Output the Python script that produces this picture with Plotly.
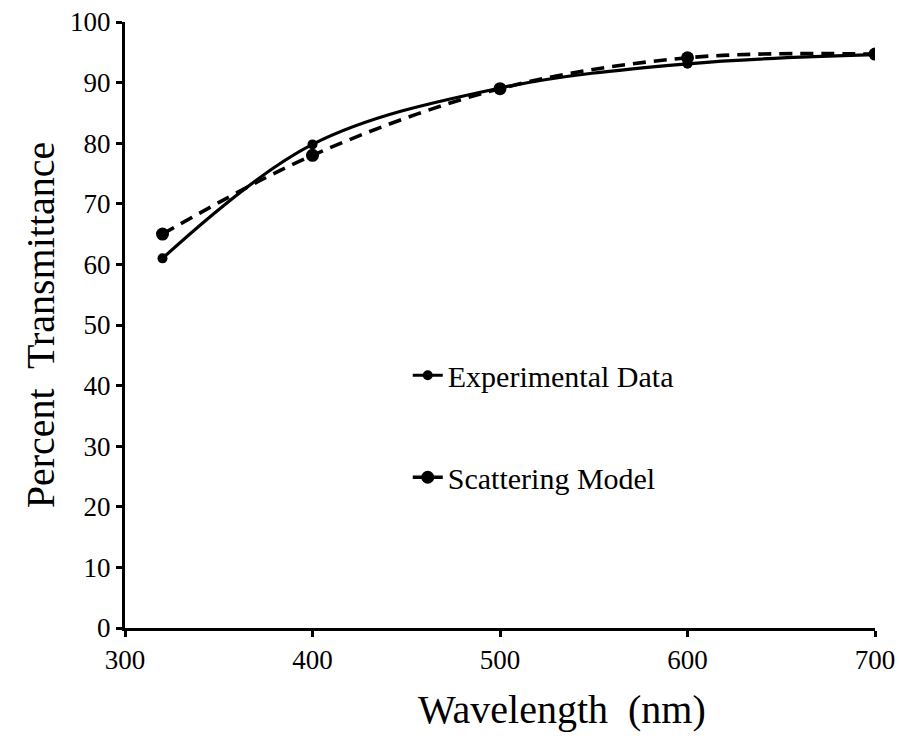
import plotly.graph_objects as go

wavelength = [320, 400, 500, 600, 700]
experimental = [61.0, 79.8, 89.1, 93.1, 94.6]
scattering = [65.0, 78.0, 89.0, 94.1, 94.7]

x_ticks = [300, 400, 500, 600, 700]
y_ticks = [0, 10, 20, 30, 40, 50, 60, 70, 80, 90, 100]

FONT = "Liberation Serif, Times New Roman, serif"

fig = go.Figure()
fig.add_trace(go.Scatter(
    x=wavelength, y=experimental, name="Experimental Data",
    mode="lines+markers", legendgroup="a",
    line=dict(color="black", width=3.2, shape="spline", smoothing=1),
    marker=dict(color="black", size=10),
))
fig.add_trace(go.Scatter(
    x=wavelength, y=scattering, name="Scattering Model",
    mode="lines+markers", legendgroup="b",
    line=dict(color="black", width=3.6, shape="spline", smoothing=1, dash="13px,8px"),
    marker=dict(color="black", size=13),
))

axis_common = dict(
    showline=True, linecolor="black", linewidth=3,
    ticks="outside", ticklen=6, tickwidth=3, tickcolor="black",
    showgrid=False, zeroline=False, automargin=False,
    tickfont=dict(family=FONT, size=27, color="black"),
)

fig.update_layout(
    width=899, height=736,
    margin=dict(l=125, r=24, t=22, b=108),
    paper_bgcolor="white", plot_bgcolor="white",
    showlegend=True,
    legend=dict(
        x=0.377, y=0.46, xanchor="left", yanchor="top",
        font=dict(family=FONT, size=30, color="black"),
        traceorder="grouped", tracegroupgap=60,
        bgcolor="rgba(0,0,0,0)",
    ),
    xaxis=dict(
        range=[300, 700], tickvals=x_ticks,
        **axis_common,
    ),
    yaxis=dict(
        range=[0, 100], tickvals=y_ticks,
        title=dict(text="Percent  Transmittance", font=dict(family=FONT, size=40, color="black"), standoff=4),
        **axis_common,
    ),
    annotations=[dict(
        text="Wavelength  (nm)", xref="paper", yref="paper",
        x=0.583, y=-0.135, xanchor="center", yanchor="middle", showarrow=False,
        font=dict(family=FONT, size=40, color="black"),
    )],
)

fig.write_html("out.html")
